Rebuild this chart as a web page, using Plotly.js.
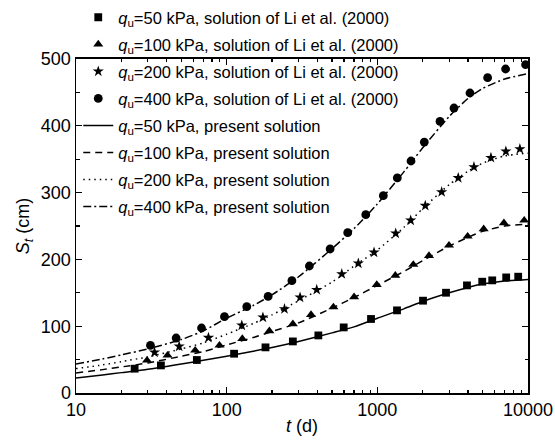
<!DOCTYPE html>
<html>
<head>
<meta charset="utf-8">
<script src="https://cdn.plot.ly/plotly-3.0.1.min.js"></script>
<style>html,body{margin:0;padding:0;background:#fff;}#chart{width:555px;height:440px;}</style>
</head>
<body>
<div id="chart"></div>
<script>
// Li et al. (2000) solution, markers
const t50 = [24.5, 36.6, 63.4, 112, 181, 275, 406, 598, 908, 1351, 2010, 2856, 3935, 4969, 5790, 7166, 8610];
const s50 = [36.4, 41.3, 49.4, 58.8, 68.3, 77.2, 86.2, 98.2, 110.8, 123.7, 138.2, 150.1, 161.1, 166.6, 168.6, 173.0, 174.1];

const t100 = [29.6, 40.5, 61.8, 89.6, 127, 192, 275, 363, 511, 701, 991, 1316, 1733, 2202, 2990, 3975, 5080, 6920, 9440];
const s100 = [48.8, 56.3, 63.8, 71.3, 81.3, 92.8, 103.3, 117.2, 128.7, 143.7, 162.1, 176.0, 192.1, 205.5, 221.0, 234.4, 245.5, 254.5, 258.4];

const t200 = [33.2, 48.4, 75.7, 126, 174, 242, 307, 396, 581, 748, 951, 1324, 1665, 2081, 2673, 3444, 4377, 5675, 7132, 8832];
const s200 = [60.8, 69.8, 82.8, 101.2, 113.2, 125.7, 143.1, 154.6, 178.1, 194.0, 210.5, 238.9, 258.4, 280.4, 300.9, 321.9, 338.3, 352.2, 361.7, 365.3];

const t400 = [31.2, 46.2, 68.1, 96.7, 136, 188.5, 271, 354, 486, 636, 838, 1096, 1357, 1673, 2050, 2605, 3227, 4120, 5395, 7100, 9640];
const s400 = [71.3, 82.3, 97.3, 114.2, 129.2, 144.6, 168.1, 190.1, 215.6, 240.0, 266.9, 295.4, 321.9, 347.3, 375.7, 406.6, 426.6, 449.1, 472.0, 485.0, 491.5];

// present solution, lines
const tLine = [10, 15, 20, 30, 50, 70, 100, 150, 200, 300, 500, 700, 1000, 1500, 2000, 3000, 4000, 5000, 7000, 10000];
const p50  = [22.5, 27, 30.5, 35.5, 43.5, 49, 55, 62.5, 68, 77, 90, 99, 112, 126, 137, 150, 158, 163, 167.5, 170];
const p100 = [30, 35, 39, 45, 55, 62, 72, 83, 92, 105, 127, 143, 161, 182, 198, 220, 233, 242, 250, 253];
const p200 = [36.5, 42, 47, 54, 66, 75, 88, 104, 117, 138, 166, 190, 214, 248, 276, 312, 332, 344, 355, 359];
const p400 = [43.5, 51, 57, 66, 80, 93, 112, 131, 147, 174, 216, 246, 283, 331, 367, 414, 441, 456, 470, 478];

const xTickVals = [10, 100, 1000, 10000];
const xTickText = ['10', '100', '1000', '10000'];
const yTickVals = [0, 100, 200, 300, 400, 500];

const names = [
  '<i>q</i><sub>u</sub>=50 kPa, solution of Li et al. (2000)',
  '<i>q</i><sub>u</sub>=100 kPa, solution of Li et al. (2000)',
  '<i>q</i><sub>u</sub>=200 kPa, solution of Li et al. (2000)',
  '<i>q</i><sub>u</sub>=400 kPa, solution of Li et al. (2000)',
  '<i>q</i><sub>u</sub>=50 kPa, present solution',
  '<i>q</i><sub>u</sub>=100 kPa, present solution',
  '<i>q</i><sub>u</sub>=200 kPa, present solution',
  '<i>q</i><sub>u</sub>=400 kPa, present solution'
];

const mk = (x, y, name, sym, size, g) => ({
  x, y, name, type: 'scatter', mode: 'markers', legendgroup: g,
  marker: {symbol: sym, size: size, color: '#000'}
});
const ln = (x, y, name, dash, g) => ({
  x, y, name, type: 'scatter', mode: 'lines', legendgroup: g,
  line: {color: '#000', width: 1.5, dash: dash, shape: 'spline', smoothing: 0.6}
});

const data = [
  mk(t50, s50, names[0], 'square', 7.8, 'g1'),
  mk(t100, s100, names[1], 'triangle-up', 8.8, 'g2'),
  mk(t200, s200, names[2], 'star', 8.5, 'g3'),
  mk(t400, s400, names[3], 'circle', 8.8, 'g4'),
  ln(tLine, p50, names[4], 'solid', 'g5'),
  ln(tLine, p100, names[5], '7px,5px', 'g6'),
  ln(tLine, p200, names[6], '1.5px,4px', 'g7'),
  ln(tLine, p400, names[7], '8px,3px,2px,3px', 'g8')
];

const FAM = 'Liberation Sans, Arial, sans-serif';

const layout = {
  width: 555, height: 440,
  margin: {l: 76, r: 27, t: 0, b: 47, pad: 0},
  paper_bgcolor: '#fff', plot_bgcolor: '#fff',
  font: {family: FAM, size: 18, color: '#000'},
  showlegend: true,
  legend: {
    x: 0.005, xanchor: 'left', y: 1.0, yanchor: 'top',
    bgcolor: 'rgba(0,0,0,0)', borderwidth: 0,
    font: {family: FAM, size: 16.5, color: '#000'},
    itemwidth: 30, tracegroupgap: 2.6
  },
  xaxis: {
    type: 'log', range: [1, 4],
    tickvals: xTickVals, ticktext: xTickText,
    ticks: 'inside', ticklen: 6, tickwidth: 1.2, tickcolor: '#000',
    minor: {ticks: 'inside', ticklen: 3.5, tickwidth: 1.2, tickcolor: '#000', dtick: 'D1', showgrid: false},
    showline: true, linecolor: '#000', linewidth: 1.5, mirror: 'ticks',
    showgrid: false, zeroline: false,
    tickfont: {family: FAM, size: 18, color: '#000'},
    title: {text: '<i>t</i> (d)', font: {family: FAM, size: 18, color: '#000'}, standoff: 0}
  },
  yaxis: {
    range: [0, 500], domain: [0, 0.8499],
    tickvals: yTickVals,
    ticks: 'inside', ticklen: 6, tickwidth: 1.2, tickcolor: '#000',
    minor: {ticks: 'inside', ticklen: 3.5, tickwidth: 1.2, tickcolor: '#000', dtick: 50, showgrid: false},
    showline: true, linecolor: '#000', linewidth: 1.5, mirror: 'ticks',
    showgrid: false, zeroline: false,
    tickfont: {family: FAM, size: 18, color: '#000'},
    title: {text: '<i>S</i><sub><i>t</i></sub> (cm)', font: {family: FAM, size: 18, color: '#000'}, standoff: 6}
  }
};

Plotly.newPlot('chart', data, layout, {displayModeBar: false, staticPlot: true});
</script>
</body>
</html>
